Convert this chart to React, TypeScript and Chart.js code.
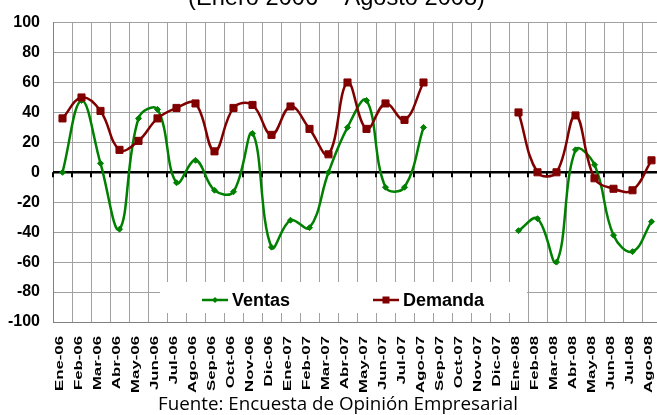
import React, { useEffect, useRef } from 'react';
import { Chart, registerables } from 'chart.js';

Chart.register(...registerables);

const categories = [
  'Ene-06', 'Feb-06', 'Mar-06', 'Abr-06', 'May-06', 'Jun-06', 'Jul-06', 'Ago-06',
  'Sep-06', 'Oct-06', 'Nov-06', 'Dic-06', 'Ene-07', 'Feb-07', 'Mar-07', 'Abr-07',
  'May-07', 'Jun-07', 'Jul-07', 'Ago-07', 'Sep-07', 'Oct-07', 'Nov-07', 'Dic-07',
  'Ene-08', 'Feb-08', 'Mar-08', 'Abr-08', 'May-08', 'Jun-08', 'Jul-08', 'Ago-08',
];

const ventas: (number | null)[] = [
  0, 48, 6, -38, 36, 42, -7, 8, -12, -13, 26, -50, -32, -37, 0, 30,
  48, -10, -10, 30, null, null, null, null, -39, -31, -60, 15, 5, -42, -53, -33,
];

const demanda: (number | null)[] = [
  36, 50, 41, 15, 21, 36, 43, 46, 14, 43, 45, 25, 44, 29, 12, 60,
  29, 46, 35, 60, null, null, null, null, 40, 0, 0, 38, -4, -11, -12, 8,
];

const seriesNames = ['Ventas', 'Demanda'];
const yMin = -100;
const yMax = 100;
const yStep = 20;
const titleText = '(Enero 2006 – Agosto 2008)';
const footerText = 'Fuente: Encuesta de Opinión Empresarial';

const GREEN = '#008000';
const RED = '#800000';
const GRID = '#a0a0a0';
const ARIAL = '"Liberation Sans", Arial, Helvetica, sans-serif';

const decor = {
  id: 'decor',
  beforeDatasetsDraw(chart: any) {
    const { ctx, chartArea: a, scales } = chart;
    const y0 = scales.y.getPixelForValue(0);
    ctx.save();
    // legend box
    ctx.fillStyle = '#ffffff';
    ctx.fillRect(160, 282, 367, 31);
    // legend: Ventas
    ctx.lineWidth = 2.5;
    ctx.strokeStyle = GREEN;
    ctx.beginPath();
    ctx.moveTo(202, 300);
    ctx.lineTo(228, 300);
    ctx.stroke();
    ctx.fillStyle = GREEN;
    ctx.beginPath();
    ctx.moveTo(215, 297);
    ctx.lineTo(218, 300);
    ctx.lineTo(215, 303);
    ctx.lineTo(212, 300);
    ctx.closePath();
    ctx.fill();
    // legend: Demanda
    ctx.strokeStyle = RED;
    ctx.beginPath();
    ctx.moveTo(373, 300);
    ctx.lineTo(399, 300);
    ctx.stroke();
    ctx.fillStyle = RED;
    ctx.fillRect(382.5, 296.5, 7, 7);
    ctx.fillStyle = '#000';
    ctx.font = `bold 18px ${ARIAL}`;
    ctx.textAlign = 'left';
    ctx.textBaseline = 'alphabetic';
    ctx.fillText(seriesNames[0], 232, 306);
    ctx.fillText(seriesNames[1], 403, 306);

    // zero axis line with tick marks
    ctx.strokeStyle = '#000';
    ctx.lineWidth = 2.5;
    ctx.beginPath();
    ctx.moveTo(a.left, y0);
    ctx.lineTo(a.right, y0);
    ctx.stroke();
    ctx.lineWidth = 2;
    const n = categories.length;
    const step = (a.right - a.left) / n;
    ctx.beginPath();
    for (let k = 0; k <= n; k++) {
      const x = a.left + k * step;
      ctx.moveTo(x, y0);
      ctx.lineTo(x, y0 + 5);
    }
    ctx.stroke();
    ctx.restore();
  },
  afterDraw(chart: any) {
    const { ctx, scales } = chart;
    const xs = scales.x;
    ctx.save();
    // category labels
    ctx.fillStyle = '#000';
    ctx.font = `bold 11.5px ${ARIAL}`;
    ctx.textAlign = 'right';
    ctx.textBaseline = 'alphabetic';
    categories.forEach((c, i) => {
      const x = xs.getPixelForValue(i);
      ctx.save();
      ctx.translate(x + 0.5, 336);
      ctx.rotate(-Math.PI / 2);
      ctx.scale(1.46, 1);
      ctx.fillText(c, 0, 0);
      ctx.restore();
    });

    // title (partly cut at top)
    ctx.font = `100px ${ARIAL}`;
    const w100 = ctx.measureText(titleText).width;
    const tSize = (100 * 297) / w100;
    ctx.font = `${tSize}px ${ARIAL}`;
    ctx.textAlign = 'center';
    ctx.fillText(titleText, 336.5, 5);

    // footer
    const FOOT = '"Open Sans", "DejaVu Sans", sans-serif';
    ctx.font = `100px ${FOOT}`;
    const f100 = ctx.measureText(footerText).width;
    const fSize = (100 * 360) / f100;
    ctx.font = `${fSize}px ${FOOT}`;
    ctx.textAlign = 'center';
    ctx.fillText(footerText, 338, 410);
    ctx.restore();
  },
};

export default function App() {
  const ref = useRef<HTMLCanvasElement | null>(null);

  useEffect(() => {
    if (!ref.current) return;
    const chart = new Chart(ref.current, {
      type: 'line',
      data: {
        labels: categories,
        datasets: [
          {
            label: seriesNames[0],
            data: ventas,
            borderColor: GREEN,
            backgroundColor: GREEN,
            borderWidth: 2.5,
            pointStyle: 'rectRot',
            pointRadius: 3,
            pointBorderWidth: 1,
            tension: 0.4,
            spanGaps: false,
            order: 1,
          },
          {
            label: seriesNames[1],
            data: demanda,
            borderColor: RED,
            backgroundColor: RED,
            borderWidth: 2.5,
            pointStyle: 'rect',
            pointRadius: 5,
            pointBorderWidth: 1,
            tension: 0.4,
            spanGaps: false,
            order: 0,
          },
        ],
      },
      options: {
        responsive: false,
        animation: false,
        devicePixelRatio: 1,
        layout: { padding: { left: 0, right: 19, top: 18, bottom: 93 } },
        plugins: {
          legend: { display: false },
          tooltip: { enabled: false },
          title: { display: false },
        },
        scales: {
          x: {
            type: 'category',
            offset: true,
            grid: { offset: true, color: GRID, lineWidth: 1, drawTicks: false },
            border: { display: true, color: '#808080', width: 1 },
            ticks: { display: false },
            afterFit: (s: any) => {
              s.height = 0;
            },
          },
          y: {
            min: yMin,
            max: yMax,
            ticks: {
              stepSize: yStep,
              color: '#000',
              padding: 13,
              font: { family: ARIAL, size: 16, weight: 'bold' },
            },
            grid: { color: GRID, lineWidth: 1, drawTicks: false },
            border: { display: true, color: '#808080', width: 1 },
            afterFit: (s: any) => {
              s.width = 53;
            },
          },
        },
      } as any,
      plugins: [decor],
    });
    return () => chart.destroy();
  }, []);

  return (
    <div
      style={{
        position: 'fixed',
        left: 0,
        top: 0,
        width: 657,
        height: 415,
        overflow: 'hidden',
        background: '#ffffff',
      }}
    >
      <canvas ref={ref} width={680} height={415} style={{ display: 'block' }} />
    </div>
  );
}
